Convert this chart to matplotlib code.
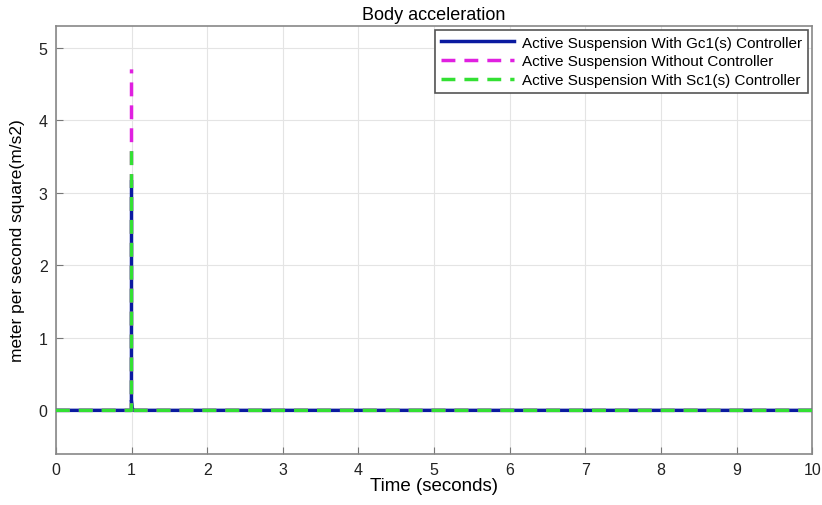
import matplotlib
matplotlib.use("Agg")
import matplotlib.pyplot as plt
import numpy as np

plt.rcParams['font.family'] = ['Liberation Sans', 'DejaVu Sans']

# time samples (s) and accelerations (m/s^2)
t_gc = [0, 0.999, 1.0, 1.0, 1.01, 1.03, 10]
a_gc = [0, 0, 3.15, 0.12, 0.03, 0, 0]
t_no = [0, 0.999, 1.0, 1.0, 1.02, 10]
a_no = [0, 0, 4.7, 0.1, 0, 0]
t_sc = [0, 0.999, 1.0, 1.0, 1.02, 10]
a_sc = [0, 0, 3.65, 0.08, 0, 0]

labels = ["Active Suspension With Gc1(s) Controller",
          "Active Suspension Without Controller",
          "Active Suspension With Sc1(s) Controller"]

fig = plt.figure(figsize=(8.22, 5.06), dpi=100)
ax = fig.add_axes([0.068, 0.101, 0.92, 0.846])


def draw(t, a, **kw):
    # rise drawn from the start, the rest drawn back from the end,
    # so the dashes on the flat parts line up between the series
    t = np.array(t); a = np.array(a)
    k = int(np.argmax(a))
    lbl = kw.pop("label")
    ax.plot(t[:k + 1], a[:k + 1], label=lbl, **kw)
    ax.plot(t[k + 1:][::-1], a[k + 1:][::-1], **kw)


draw(t_gc, a_gc, color="#0a1aa0", lw=2.5, label=labels[0], zorder=3)
draw(t_no, a_no, color="#e020e0", lw=2.5, ls=(0, (4, 2.6)), label=labels[1], zorder=4)
draw(t_sc, a_sc, color="#33e033", lw=2.5, ls=(0, (4, 2.6)), label=labels[2], zorder=5)

ax.set_xlim(0, 10)
ax.set_ylim(-0.6, 5.3)
ax.set_xticks(range(0, 11))
ax.set_yticks(range(0, 6))
ax.grid(True, color="#e4e4e4", lw=0.8)
for s in ax.spines.values():
    s.set_color("#888888")
    s.set_linewidth(1.2)
ax.tick_params(colors="#777777", labelcolor="#222222", labelsize=11.5,
               direction="in", length=5, pad=6)

ax.set_title("Body acceleration", fontsize=13, pad=5)
ax.set_xlabel("Time (seconds)", fontsize=13.5, labelpad=0)
ax.set_ylabel("meter per second square(m/s2)", fontsize=12.5, labelpad=10)

leg = ax.legend(loc="upper right", fontsize=11, fancybox=False, framealpha=1,
                edgecolor="#555555", handlelength=4.8, borderaxespad=0.25,
                borderpad=0.4, labelspacing=0.3, handletextpad=0.5)
leg.get_frame().set_linewidth(1.2)

fig.savefig("out.png", dpi=100)
